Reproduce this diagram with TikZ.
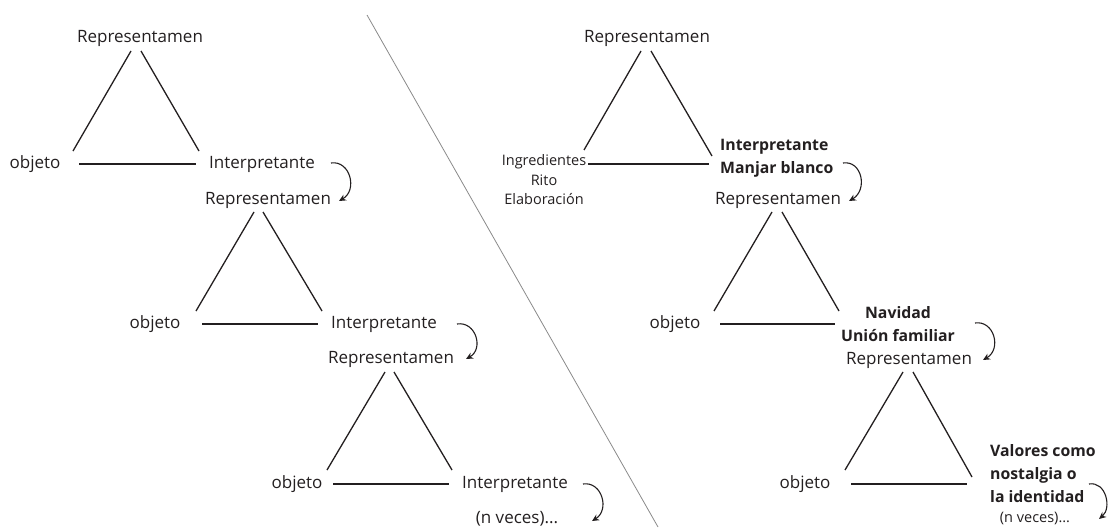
\documentclass[tikz,border=0pt]{standalone}
\usepackage{fontspec}
\setmainfont{Open Sans}
\usetikzlibrary{arrows.meta}
\definecolor{ink}{HTML}{231F20}
\definecolor{divider}{HTML}{8A8A8A}
\tikzset{
  lbl/.style={inner sep=0pt, text=ink, font=\fontsize{17}{20}\selectfont},
  small/.style={inner sep=0pt, text=ink, font=\fontsize{14.5}{19.5}\selectfont},
  boldlbl/.style={inner sep=0pt, text=ink, font=\fontsize{15.8}{23}\selectfont\bfseries},
  side/.style={draw=ink, line width=1.3pt},
  loop/.style={draw=ink, line width=1.1pt, -{Stealth[length=7pt,width=6.5pt]}},
  sep/.style={draw=divider, line width=0.8pt}
}
\begin{document}
\begin{tikzpicture}[x=1pt,y=-1pt]
\useasboundingbox (0,0) rectangle (1110,527);

% divider
\coordinate (d1) at (367,15);
\coordinate (d2) at (658,527);
\draw[sep] (d1) -- (d2);

% ---------------- left column ----------------
\node[lbl] (R1) at (140,38) {Representamen};
\node[lbl] (O1) at (35,164) {objeto};
\node[lbl] (I1) at (262,164) {Interpretante};
\node[lbl] (R2) at (268,200) {Representamen};
\node[lbl] (O2) at (155,324) {objeto};
\node[lbl] (I2) at (384,324) {Interpretante};
\node[lbl] (R3) at (391,359) {Representamen};
\node[lbl] (O3) at (297,484) {objeto};
\node[lbl] (I3) at (515,484) {Interpretante};
\node[lbl] (N1) at (517,519) {(n veces)...};

% triangle 1
\coordinate (a1l) at (131,51); \coordinate (b1l) at (73,151);
\coordinate (a1r) at (141,51); \coordinate (b1r) at (199,151);
\coordinate (c1l) at (79,164); \coordinate (c1r) at (196,164);
\draw[side] (a1l) -- (b1l);
\draw[side] (a1r) -- (b1r);
\draw[side] (c1l) -- (c1r);
% triangle 2
\coordinate (a2l) at (254,212); \coordinate (b2l) at (196,311);
\coordinate (a2r) at (263,212); \coordinate (b2r) at (322,311);
\coordinate (c2l) at (202,324); \coordinate (c2r) at (318,324);
\draw[side] (a2l) -- (b2l);
\draw[side] (a2r) -- (b2r);
\draw[side] (c2l) -- (c2r);
% triangle 3
\coordinate (a3l) at (385,372); \coordinate (b3l) at (327,470);
\coordinate (a3r) at (394,372); \coordinate (b3r) at (452,470);
\coordinate (c3l) at (333,484); \coordinate (c3r) at (449,484);
\draw[side] (a3l) -- (b3l);
\draw[side] (a3r) -- (b3r);
\draw[side] (c3l) -- (c3r);

% loops left
\coordinate (s1) at (331,163); \coordinate (e1) at (339,201);
\draw[loop] (s1) .. controls (350,160) and (358,190) .. (e1);
\coordinate (s2) at (457,324); \coordinate (e2) at (466,359);
\draw[loop] (s2) .. controls (476,321) and (484,349) .. (e2);
\coordinate (s3) at (583,484); \coordinate (e3) at (592,521);
\draw[loop] (s3) .. controls (602,481) and (610,510) .. (e3);

% ---------------- right column ----------------
\node[lbl] (RR1) at (647,38) {Representamen};
\node[small, align=center] (ING) at (544,180) {Ingredientes\\Rito\\Elaboración};
\node[boldlbl, align=left, anchor=west] (MB) at (720,158) {Interpretante\\Manjar blanco};
\node[lbl] (RR2) at (778,200) {Representamen};
\node[lbl] (OR2) at (675,324) {objeto};
\node[boldlbl, align=center] (NAV) at (898,324) {Navidad\\Unión familiar};
\node[lbl] (RR3) at (909,360) {Representamen};
\node[lbl] (OR3) at (805,484) {objeto};
\node[boldlbl, align=left, anchor=west] (VAL) at (990,474) {Valores como\\nostalgia o\\la identidad};
\node[small] (N2) at (1035,518) {(n veces)...};

% right triangle 1
\coordinate (p1l) at (641,51); \coordinate (q1l) at (584,150);
\coordinate (p1r) at (651,51); \coordinate (q1r) at (712,156);
\coordinate (r1l) at (588,164); \coordinate (r1r) at (709,164);
\draw[side] (p1l) -- (q1l);
\draw[side] (p1r) -- (q1r);
\draw[side] (r1l) -- (r1r);
% right triangle 2
\coordinate (p2l) at (772,212); \coordinate (q2l) at (714,311);
\coordinate (p2r) at (782,212); \coordinate (q2r) at (839,311);
\coordinate (r2l) at (720,324); \coordinate (r2r) at (835,324);
\draw[side] (p2l) -- (q2l);
\draw[side] (p2r) -- (q2r);
\draw[side] (r2l) -- (r2r);
% right triangle 3
\coordinate (p3l) at (903,372); \coordinate (q3l) at (845,470);
\coordinate (p3r) at (913,372); \coordinate (q3r) at (972,477);
\coordinate (r3l) at (851,484); \coordinate (r3r) at (967,484);
\draw[side] (p3l) -- (q3l);
\draw[side] (p3r) -- (q3r);
\draw[side] (r3l) -- (r3r);

% loops right
\coordinate (t1) at (843,163); \coordinate (u1) at (849,201);
\draw[loop] (t1) .. controls (862,160) and (868,190) .. (u1);
\coordinate (t2) at (975,323); \coordinate (u2) at (983,360);
\draw[loop] (t2) .. controls (994,320) and (1002,349) .. (u2);
\coordinate (t3) at (1089,484); \coordinate (u3) at (1099,519);
\draw[loop] (t3) .. controls (1106,481) and (1112,508) .. (u3);
\end{tikzpicture}
\end{document}
